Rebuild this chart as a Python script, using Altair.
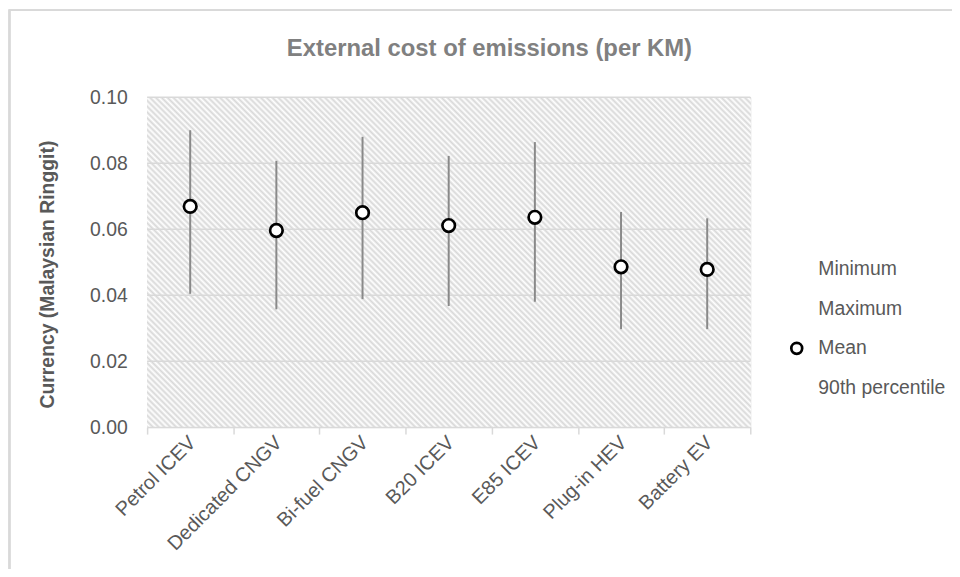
import altair as alt
import pandas as pd

categories = ["Petrol ICEV", "Dedicated CNGV", "Bi-fuel CNGV", "B20 ICEV",
              "E85 ICEV", "Plug-in HEV", "Battery EV"]
minimum = [0.0404, 0.0357, 0.0388, 0.0367, 0.0380, 0.0297, 0.0297]
maximum = [0.0900, 0.0807, 0.0880, 0.0822, 0.0864, 0.0652, 0.0633]
mean = [0.0669, 0.0596, 0.0650, 0.0611, 0.0636, 0.0486, 0.0478]
y_ticks = [0.00, 0.02, 0.04, 0.06, 0.08, 0.10]
legend_items = ["Minimum", "Maximum", "Mean", "90th percentile"]

FONT = "Liberation Sans, Arial, sans-serif"
W, H = 607, 332

df = pd.DataFrame({"category": categories, "min": minimum, "max": maximum,
                   "mean": mean, "series": "Mean"})
grid_df = pd.DataFrame({"tick": y_ticks[1:]})

x_enc = alt.X("category:N", sort=categories, title=None,
              scale=alt.Scale(paddingInner=0, paddingOuter=0),
              axis=alt.Axis(labelAngle=-45, labelFont=FONT, labelFontSize=20,
                            labelColor="#595959", domainColor="#d9d9d9",
                            domainWidth=1.5, tickColor="#d9d9d9", tickWidth=1.5,
                            tickSize=7, tickBand="extent", labelPadding=-2,
                            labelOffset=-5, zindex=1))
y_scale = alt.Scale(domain=[0, 0.1], nice=False)
y_axis = alt.Axis(values=y_ticks, format=".2f", grid=False, domain=False,
                  ticks=False, labelPadding=20, labelFont=FONT,
                  labelFontSize=19.5, labelColor="#595959",
                  title="Currency (Malaysian Ringgit)", titleFont=FONT,
                  titleFontSize=19.5, titleFontWeight="bold",
                  titleColor="#595959", titleX=-100, titleY=178,
                  titleBaseline="middle", titleAngle=270, zindex=1)

# diagonal hatch as a striped gradient
n = 160
stops = []
for k in range(n):
    stops.append(alt.GradientStop(offset=k / n, color="#d8d8d8"))
    stops.append(alt.GradientStop(offset=(k + 0.5) / n, color="#ffffff"))
stops.append(alt.GradientStop(offset=1.0, color="#d8d8d8"))
s = (W + H) / (W * (1 + (H / W) ** 2))
hatch_fill = alt.LinearGradient(gradient="linear", stops=stops,
                                x1=0, y1=1, x2=s, y2=1 - s * H / W)

frame = alt.Chart(df).mark_rect(fill="transparent", stroke="#d9d9d9",
                                strokeWidth=1.5, clip=False).encode(
    x=alt.value(-138.5), x2=alt.value(W + 260),
    y=alt.value(-87.5), y2=alt.value(H + 200))

hatch = alt.Chart(df).mark_rect(fill=hatch_fill).encode(
    y=alt.datum(0.0, scale=y_scale, axis=y_axis, type="quantitative"),
    y2=alt.datum(0.1))

grid = alt.Chart(grid_df).mark_rule(color="#d9d9d9", strokeWidth=1.5).encode(
    y=alt.Y("tick:Q", scale=y_scale))

rules = alt.Chart(df).mark_rule(color="#898989", strokeWidth=2).encode(
    x=x_enc, y=alt.Y("min:Q", scale=y_scale), y2="max:Q")

points = alt.Chart(df).mark_point(filled=False, fill="white", size=160,
                                  strokeWidth=2.7, opacity=1).encode(
    x=x_enc, y=alt.Y("mean:Q", scale=y_scale),
    stroke=alt.Stroke("series:N",
                      scale=alt.Scale(domain=legend_items,
                                      range=["transparent", "transparent",
                                             "black", "transparent"]),
                      legend=alt.Legend(title=None, orient="none",
                                        legendX=644, legendY=163,
                                        labelFont=FONT, labelFontSize=19.5,
                                        labelColor="#595959", symbolType="circle",
                                        symbolSize=120, symbolStrokeWidth=2.7,
                                        symbolFillColor="white",
                                        rowPadding=17, labelOffset=12,
                                        padding=0)))

chart = alt.layer(frame, hatch, grid, rules, points).properties(
    width=W, height=H,
    autosize=alt.AutoSizeParams(type="none"),
    padding={"left": 140, "top": 88, "right": 203, "bottom": 141},
    title=alt.TitleParams("External cost of emissions (per KM)", font=FONT,
                          fontSize=24, fontWeight="bold", color="#808080",
                          anchor="middle", dx=41, offset=-71,
                          baseline="alphabetic"),
).configure_view(stroke=None).configure(background="white")

chart.save("out.html", embed_options={"renderer": "svg", "actions": False})
